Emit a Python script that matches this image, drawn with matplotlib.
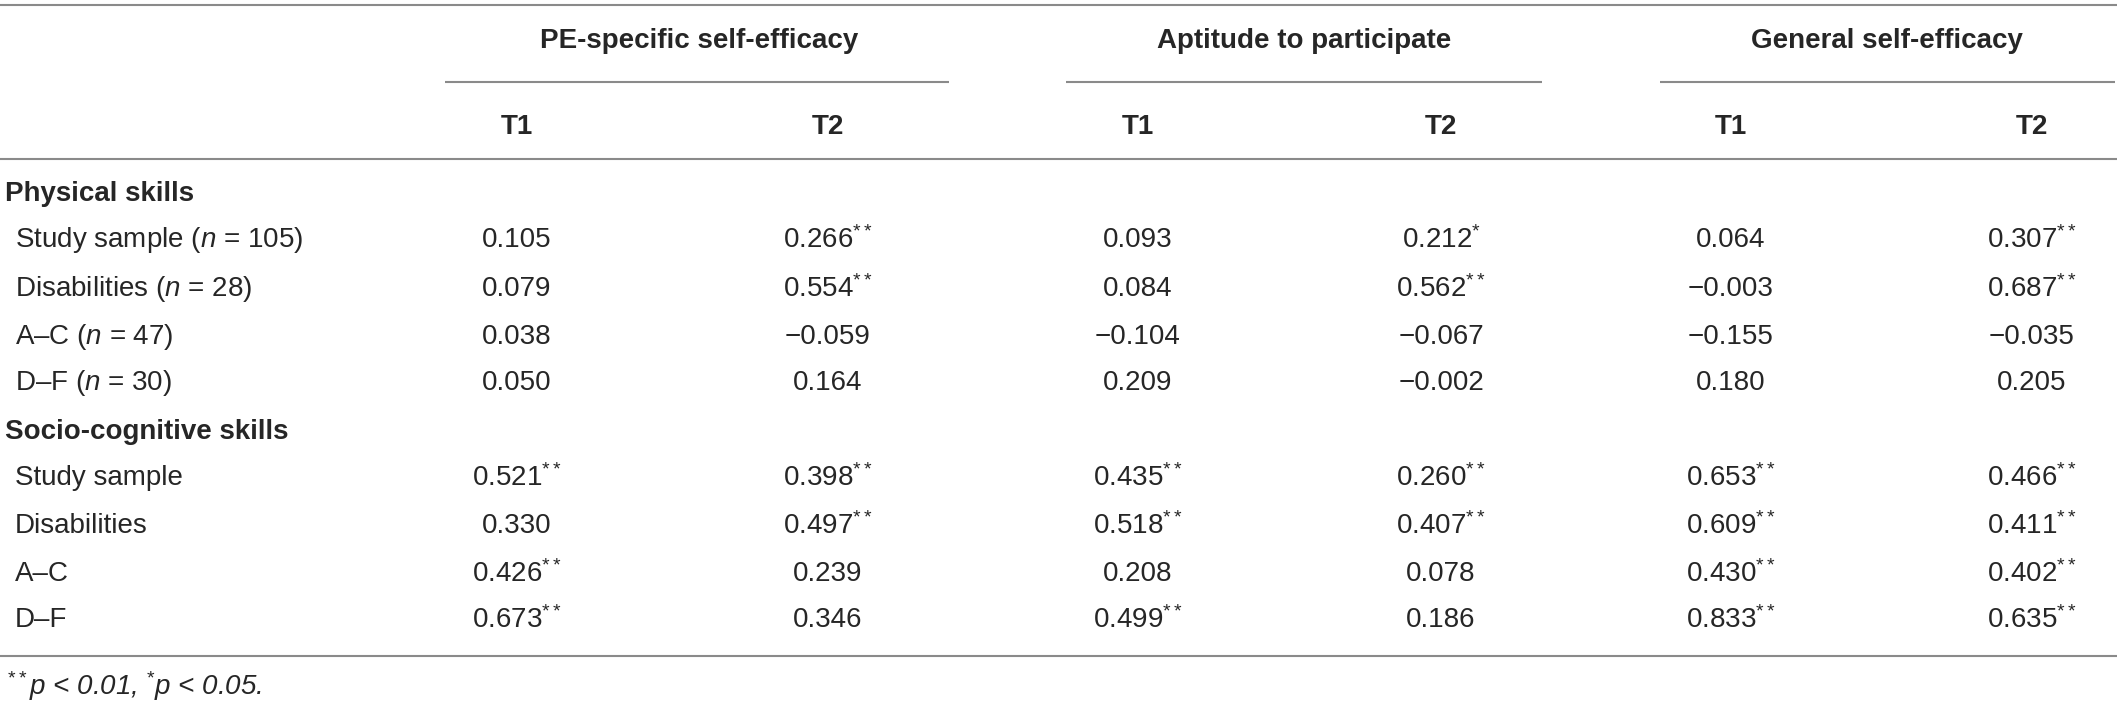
import matplotlib
matplotlib.use("Agg")
import matplotlib.pyplot as plt

plt.rcParams["font.family"] = ["Liberation Sans", "DejaVu Sans"]
plt.rcParams["mathtext.fontset"] = "custom"
plt.rcParams["mathtext.rm"] = "Liberation Sans"
plt.rcParams["mathtext.it"] = "Liberation Sans:italic"
plt.rcParams["mathtext.bf"] = "Liberation Sans:bold"

groups = ["PE-specific self-efficacy", "Aptitude to participate", "General self-efficacy"]
times = ["T1", "T2"]
sections = ["Physical skills", "Socio-cognitive skills"]
row_labels = ["Study sample", "Disabilities", "A–C", "D–F"]
phys_n = [105, 28, 47, 30]

# columns: PE T1, PE T2, Apt T1, Apt T2, Gen T1, Gen T2
phys_vals = [
    [0.105, 0.266, 0.093, 0.212, 0.064, 0.307],
    [0.079, 0.554, 0.084, 0.562, -0.003, 0.687],
    [0.038, -0.059, -0.104, -0.067, -0.155, -0.035],
    [0.050, 0.164, 0.209, -0.002, 0.180, 0.205],
]
phys_sig = [
    ["", "**", "", "*", "", "**"],
    ["", "**", "", "**", "", "**"],
    ["", "", "", "", "", ""],
    ["", "", "", "", "", ""],
]
soc_vals = [
    [0.521, 0.398, 0.435, 0.260, 0.653, 0.466],
    [0.330, 0.497, 0.518, 0.407, 0.609, 0.411],
    [0.426, 0.239, 0.208, 0.078, 0.430, 0.402],
    [0.673, 0.346, 0.499, 0.186, 0.833, 0.635],
]
soc_sig = [
    ["**", "**", "**", "**", "**", "**"],
    ["", "**", "**", "**", "**", "**"],
    ["**", "", "", "", "**", "**"],
    ["**", "", "**", "", "**", "**"],
]

W, H = 2117, 704
fig = plt.figure(figsize=(W / 100, H / 100), dpi=100)
ax = fig.add_axes([0, 0, 1, 1])
ax.set_xlim(0, W)
ax.set_ylim(H, 0)
ax.axis("off")

ink = "#262626"
rule = "#8a8a8a"
fs = 20

col_x = [517, 828, 1138, 1441, 1731, 2032]
group_x = [699, 1304, 1887]
group_span = [(445, 949), (1066, 1542), (1660, 2115)]

# rules
for y in (5, 159, 656):
    ax.hlines(y, 0, W, color=rule, lw=1.5)
for (a, b) in group_span:
    ax.hlines(82, a, b, color=rule, lw=1.5)

for g, x in zip(groups, group_x):
    ax.text(x, 41, g, ha="center", va="center", fontsize=fs, fontweight="bold", color=ink)
for i, x in enumerate(col_x):
    ax.text(x, 127, times[i % 2], ha="center", va="center", fontsize=fs, fontweight="bold", color=ink)


def fmt(v, s):
    txt = f"{abs(v):.3f}"
    if v < 0:
        txt = "\u2212" + txt
    if s:
        txt += "$^{" + s + "}$"
    return txt


row_y = [240, 289, 337, 383, 432, 478, 526, 574, 620]
sec_y = [194, 432]

ax.text(5, sec_y[0], sections[0], ha="left", va="center", fontsize=fs, fontweight="bold", color=ink)
for r in range(4):
    y = row_y[r]
    lab = row_labels[r] + r" ($\mathit{n}$ = " + str(phys_n[r]) + ")"
    ax.text(15, y, lab, ha="left", va="center", fontsize=fs, color=ink)
    for c in range(6):
        ax.text(col_x[c], y, fmt(phys_vals[r][c], phys_sig[r][c]), ha="center", va="center",
                fontsize=fs, color=ink)

ax.text(5, sec_y[1], sections[1], ha="left", va="center", fontsize=fs, fontweight="bold", color=ink)
for r in range(4):
    y = row_y[5 + r]
    ax.text(15, y, row_labels[r], ha="left", va="center", fontsize=fs, color=ink)
    for c in range(6):
        ax.text(col_x[c], y, fmt(soc_vals[r][c], soc_sig[r][c]), ha="center", va="center",
                fontsize=fs, color=ink)

ax.text(7, 686, r"$^{**}$$\mathit{p}$ < 0.01, $^{*}$$\mathit{p}$ < 0.05.", ha="left", va="center",
        fontsize=fs, style="italic", color=ink)

fig.savefig("out.png", dpi=100)
